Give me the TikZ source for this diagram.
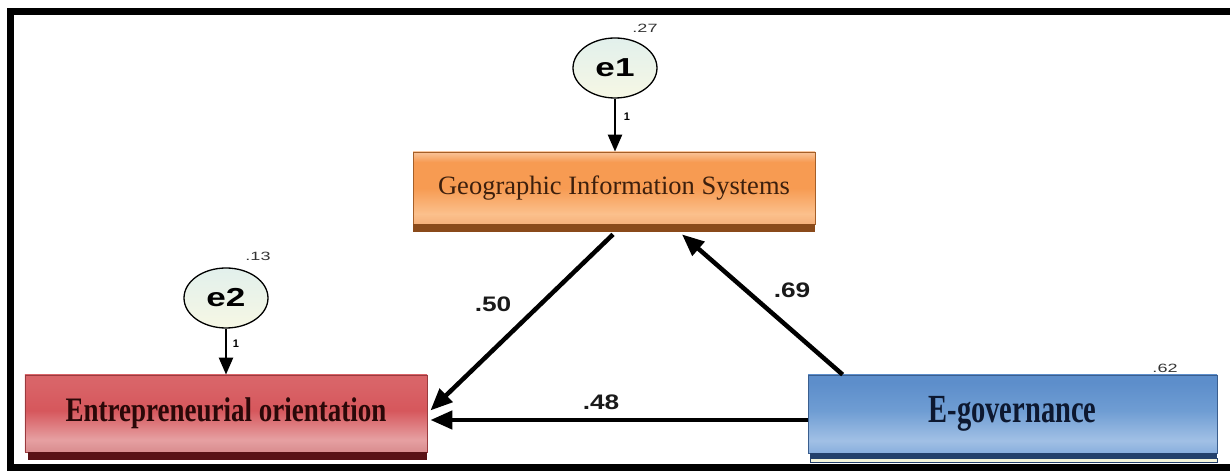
\documentclass[tikz,border=0pt]{standalone}
\usepackage{fontspec}
\setmainfont{Liberation Serif}
\newfontfamily\lsans{Liberation Sans}
\usetikzlibrary{arrows.meta,calc,shapes.geometric}

% box colours
\definecolor{gisT}{HTML}{F9C49A}
\definecolor{gisO}{HTML}{F79B52}
\definecolor{gisL}{HTML}{FBC08C}
\definecolor{gisB}{HTML}{F6B07A}
\definecolor{gisBand}{HTML}{8A4A1A}
\definecolor{gisEdge}{HTML}{A55F28}
\definecolor{gisText}{HTML}{3C1F0D}

\definecolor{eoT}{HTML}{D96468}
\definecolor{eoM}{HTML}{D6575C}
\definecolor{eoL}{HTML}{E6A0A2}
\definecolor{eoB}{HTML}{D98C8E}
\definecolor{eoBand}{HTML}{5A1216}
\definecolor{eoEdge}{HTML}{9A3A3E}
\definecolor{eoText}{HTML}{2A0808}

\definecolor{egT}{HTML}{5D8ECB}
\definecolor{egM}{HTML}{6F9DD3}
\definecolor{egL}{HTML}{A1C0E5}
\definecolor{egB}{HTML}{88AEDD}
\definecolor{egBand}{HTML}{23406B}
\definecolor{egLine}{HTML}{F4F4DA}
\definecolor{egEdge}{HTML}{3A5E8E}
\definecolor{egText}{HTML}{0D1830}

\definecolor{errTop}{HTML}{E2F0EC}
\definecolor{errBot}{HTML}{F6F7E4}
\definecolor{numText}{HTML}{1A1A1A}
\definecolor{smallText}{HTML}{333333}

\pgfdeclareverticalshading{gisshade}{100bp}{color(0bp)=(gisB); color(25bp)=(gisB); color(32bp)=(gisL); color(50bp)=(gisO); color(68bp)=(gisO); color(75bp)=(gisT); color(100bp)=(gisT)}
\pgfdeclareverticalshading{eoshade}{100bp}{color(0bp)=(eoB); color(25bp)=(eoB); color(33bp)=(eoL); color(52bp)=(eoM); color(70bp)=(eoT); color(75bp)=(eoT); color(100bp)=(eoT)}
\pgfdeclareverticalshading{egshade}{100bp}{color(0bp)=(egB); color(25bp)=(egB); color(33bp)=(egL); color(52bp)=(egM); color(70bp)=(egT); color(75bp)=(egT); color(100bp)=(egT)}

\newcommand{\wide}[2]{\scalebox{#1}[1]{#2}}

\begin{document}
\begin{tikzpicture}[x=1bp,y=-1bp,
  varbox/.style={rectangle, inner sep=0pt, line width=0.8bp},
  errnode/.style={ellipse, minimum width=84bp, minimum height=60bp, inner sep=0pt,
    draw=black, line width=1.3bp, top color=errTop, bottom color=errBot,
    font=\lsans\bfseries\fontsize{26bp}{26bp}\selectfont},
  path/.style={line width=4.5bp, -{Triangle[length=22bp,width=18bp]}},
  fixed/.style={line width=2.5bp, -{Triangle[length=17bp,width=14bp]}},
  coef/.style={font=\lsans\bfseries\fontsize{21bp}{21bp}\selectfont, text=numText, inner sep=0pt},
  varlab/.style={font=\lsans\fontsize{12bp}{12bp}\selectfont, text=smallText, inner sep=0pt},
  onelab/.style={font=\lsans\bfseries\fontsize{11bp}{11bp}\selectfont, inner sep=0pt}]
\useasboundingbox (0,0) rectangle (1230,472);

% outer frame (its right side lies beyond the page)
\draw[line width=7bp] (10.5,11.5) rectangle (1270,468);

% observed variables
\node[varbox, minimum width=402bp, minimum height=72bp, shading=gisshade, draw=gisEdge,
  text=gisText, font=\fontsize{26.5bp}{30bp}\selectfont] (gis) at (614,188)
  {Geographic Information Systems};
\fill[gisBand] (gis.south west) rectangle ($(gis.south east)+(0,8)$);

\node[varbox, minimum width=402bp, minimum height=77bp, shading=eoshade, draw=eoEdge,
  text=eoText, font=\bfseries\fontsize{27bp}{30bp}\selectfont] (eo) at (226,413.5)
  {\scalebox{1}[1.27]{Entrepreneurial orientation}};
\fill[eoBand] ($(eo.south west)+(3,0)$) rectangle ($(eo.south east)+(0,8)$);

\node[varbox, minimum width=409bp, minimum height=78bp, shading=egshade, draw=egEdge,
  text=egText, font=\bfseries\fontsize{28.5bp}{30bp}\selectfont] (eg) at (1012.5,414)
  {\scalebox{1}[1.4]{E-governance}};
\fill[egBand] ($(eg.south west)+(2,0)$) rectangle ($(eg.south east)+(0,5)$);
\draw[fill=egLine, draw=egBand, line width=1bp] ($(eg.south west)+(3,5)$) rectangle ($(eg.south east)+(0,9)$);

% error terms
\node[errnode] (e1) at (615,68) {\wide{1.35}{e1}};
\node[errnode] (e2) at (226,298) {\wide{1.35}{e2}};

% squared multiple correlations
\node[varlab] (r1) at (645,28) {\wide{1.5}{.27}};
\node[varlab] (r2) at (258,256) {\wide{1.5}{.13}};
\node[varlab] (r3) at (1165,368) {\wide{1.5}{.62}};

% fixed error paths
\draw[fixed] (e1.south) -- (e1.south |- gis.north);
\draw[fixed] (e2.south) -- (e2.south |- eo.north);
\node[onelab] (w1) at (627,117) {1};
\node[onelab] (w2) at (236,344) {1};

% structural paths
\coordinate (gisOut) at ($(gis.south)+(-1,10)$);
\coordinate (gisIn) at ($(gis.south)+(68,10)$);
\coordinate (egOut) at ($(eg.north west)+(35,0)$);
\draw[path] (gisOut) -- ($(eo.east)+(3,-3)$);
\draw[path] (egOut) -- (gisIn);
\draw[path] ($(eg.west)+(0,6)$) -- ($(eo.east |- eg.west)+(3,6)$);

\node[coef] (c1) at (493,304) {\wide{1.25}{.50}};
\node[coef] (c2) at (792,290) {\wide{1.25}{.69}};
\node[coef] (c3) at (601,402) {\wide{1.25}{.48}};
\end{tikzpicture}
\end{document}
